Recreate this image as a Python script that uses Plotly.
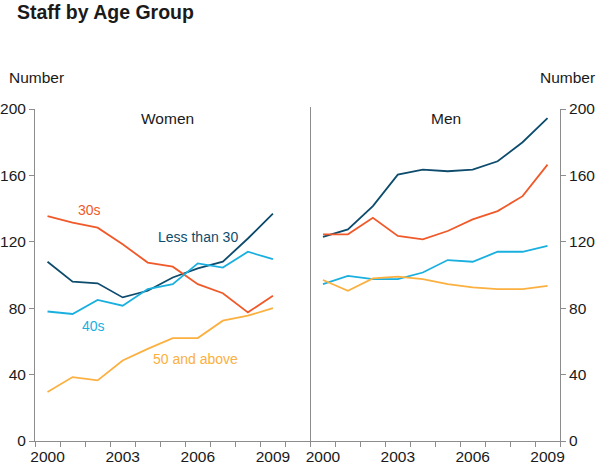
import plotly.graph_objects as go

years = [2000, 2001, 2002, 2003, 2004, 2005, 2006, 2007, 2008, 2009]

women_lt30 = [108, 96, 95, 86.5, 90.5, 98.5, 104, 108, 122, 137]
women_30s = [135.5, 131.5, 128.5, 118.5, 107.5, 105, 94.5, 89, 77.5, 87.5]
women_40s = [78, 76.5, 85, 81.5, 91.5, 94.5, 107, 104.5, 114, 109.5]
women_50p = [29.5, 38.5, 36.5, 48.5, 55.5, 62, 62, 72.5, 75.5, 80]

men_lt30 = [123, 127.5, 141.5, 160.5, 163.5, 162.5, 163.5, 168.5, 180, 194.5]
men_30s = [124.5, 124.5, 134.5, 123.5, 121.5, 126.5, 133.5, 138.5, 147.5, 166.5]
men_40s = [94.5, 99.5, 97.5, 97.5, 101.5, 109, 108, 114, 114, 117.5]
men_50p = [97, 90.5, 98, 99, 97.5, 94.5, 92.5, 91.5, 91.5, 93.5]

x_tick_years = [2000, 2003, 2006, 2009]
y_ticks = [0, 40, 80, 120, 160, 200]

C_LT30 = "#0E4C6E"
C_30S = "#F05A2A"
C_40S = "#19B0E0"
C_50P = "#FBB040"
GREY = "#8C8C8C"
FONT = "Arial, Liberation Sans, sans-serif"

W, H = 600, 465
ML, MR, MT, MB = 35, 40, 109, 24
PW = W - ML - MR  # 525
PH = H - MT - MB  # 332

xs = [y + 0.5 for y in years]

fig = go.Figure()
series = [
    (women_lt30, men_lt30, C_LT30),
    (women_30s, men_30s, C_30S),
    (women_40s, men_40s, C_40S),
    (women_50p, men_50p, C_50P),
]
for w, m, c in series:
    fig.add_trace(go.Scatter(x=xs, y=w, mode="lines", line=dict(color=c, width=1.8),
                             xaxis="x", yaxis="y", showlegend=False))
    fig.add_trace(go.Scatter(x=xs, y=m, mode="lines", line=dict(color=c, width=1.8),
                             xaxis="x2", yaxis="y2", showlegend=False))

split = 275.5 / PW

xcommon = dict(
    tickmode="array",
    tickvals=[y + 0.5 for y in x_tick_years],
    ticktext=[str(y) for y in x_tick_years],
    ticks="outside", ticklen=1, tickcolor="rgba(0,0,0,0)",
    showline=True, linecolor=GREY, linewidth=1,
    showgrid=False, zeroline=False, automargin=False,
    tickfont=dict(family=FONT, size=15.5, color="#1a1a1a"),
    fixedrange=True,
)
minor = dict(tickmode="array", ticks="outside", ticklen=5, tickcolor=GREY, showgrid=False)
ycommon = dict(range=[0, 200], tickvals=y_ticks, ticks="outside", ticklen=5,
               tickcolor=GREY, showline=True, linecolor=GREY, showgrid=False,
               zeroline=False, automargin=False,
               tickfont=dict(family=FONT, size=15.5, color="#1a1a1a"), fixedrange=True)

fig.update_layout(
    width=W, height=H,
    margin=dict(l=ML, r=MR, t=MT, b=MB, autoexpand=False),
    paper_bgcolor="white", plot_bgcolor="white",
    font=dict(family=FONT, color="#1a1a1a"),
    title=dict(text="<b>Staff by Age Group</b>", x=17 / W, xanchor="left",
               y=1 - 12 / H, yanchor="middle",
               font=dict(family=FONT, size=19.5, color="#1a1a1a")),
    xaxis=dict(domain=[0, split], range=[2000, 2011], anchor="y",
               minor=dict(minor, tickvals=list(range(2000, 2012))), **xcommon),
    xaxis2=dict(domain=[split, 1], range=[2000, 2010], anchor="y2",
                minor=dict(minor, tickvals=list(range(2000, 2011))), **xcommon),
    yaxis=dict(anchor="x", **ycommon),
    yaxis2=dict(anchor="x2", side="right", **ycommon),
)

# divider between panels
fig.add_shape(type="line", xref="paper", yref="paper", x0=split, x1=split, y0=0, y1=1.006,
              line=dict(color=GREY, width=1))

ann = [
    dict(text="Women", x=2005.3, y=194, xref="x", yref="y", color="#1a1a1a", size=15.5),
    dict(text="Men", x=2005.42, y=194, xref="x2", yref="y2", color="#1a1a1a", size=15.5),
    dict(text="30s", x=2002.16, y=139.3, xref="x", yref="y", color=C_30S, size=14),
    dict(text="Less than 30", x=2006.52, y=122.8, xref="x", yref="y", color=C_LT30, size=14),
    dict(text="40s", x=2002.32, y=69, xref="x", yref="y", color=C_40S, size=14),
    dict(text="50 and above", x=2006.42, y=49.3, xref="x", yref="y", color=C_50P, size=14),
]
for a in ann:
    fig.add_annotation(text=a["text"], x=a["x"], y=a["y"], xref=a["xref"], yref=a["yref"],
                       showarrow=False, xanchor="center", yanchor="middle",
                       font=dict(family=FONT, size=a["size"], color=a["color"]))

fig.add_annotation(text="Number", xref="paper", yref="paper", x=(7 - ML) / PW,
                   y=(441 - 78) / PH, xanchor="left", yanchor="middle", showarrow=False,
                   font=dict(family=FONT, size=15.5, color="#1a1a1a"))
fig.add_annotation(text="Number", xref="paper", yref="paper", x=(597 - ML) / PW,
                   y=(441 - 78) / PH, xanchor="right", yanchor="middle", showarrow=False,
                   font=dict(family=FONT, size=15.5, color="#1a1a1a"))

fig.write_html("out.html", config={"displayModeBar": False},
               post_script="document.body.style.margin='0';document.body.style.overflow='hidden';")
